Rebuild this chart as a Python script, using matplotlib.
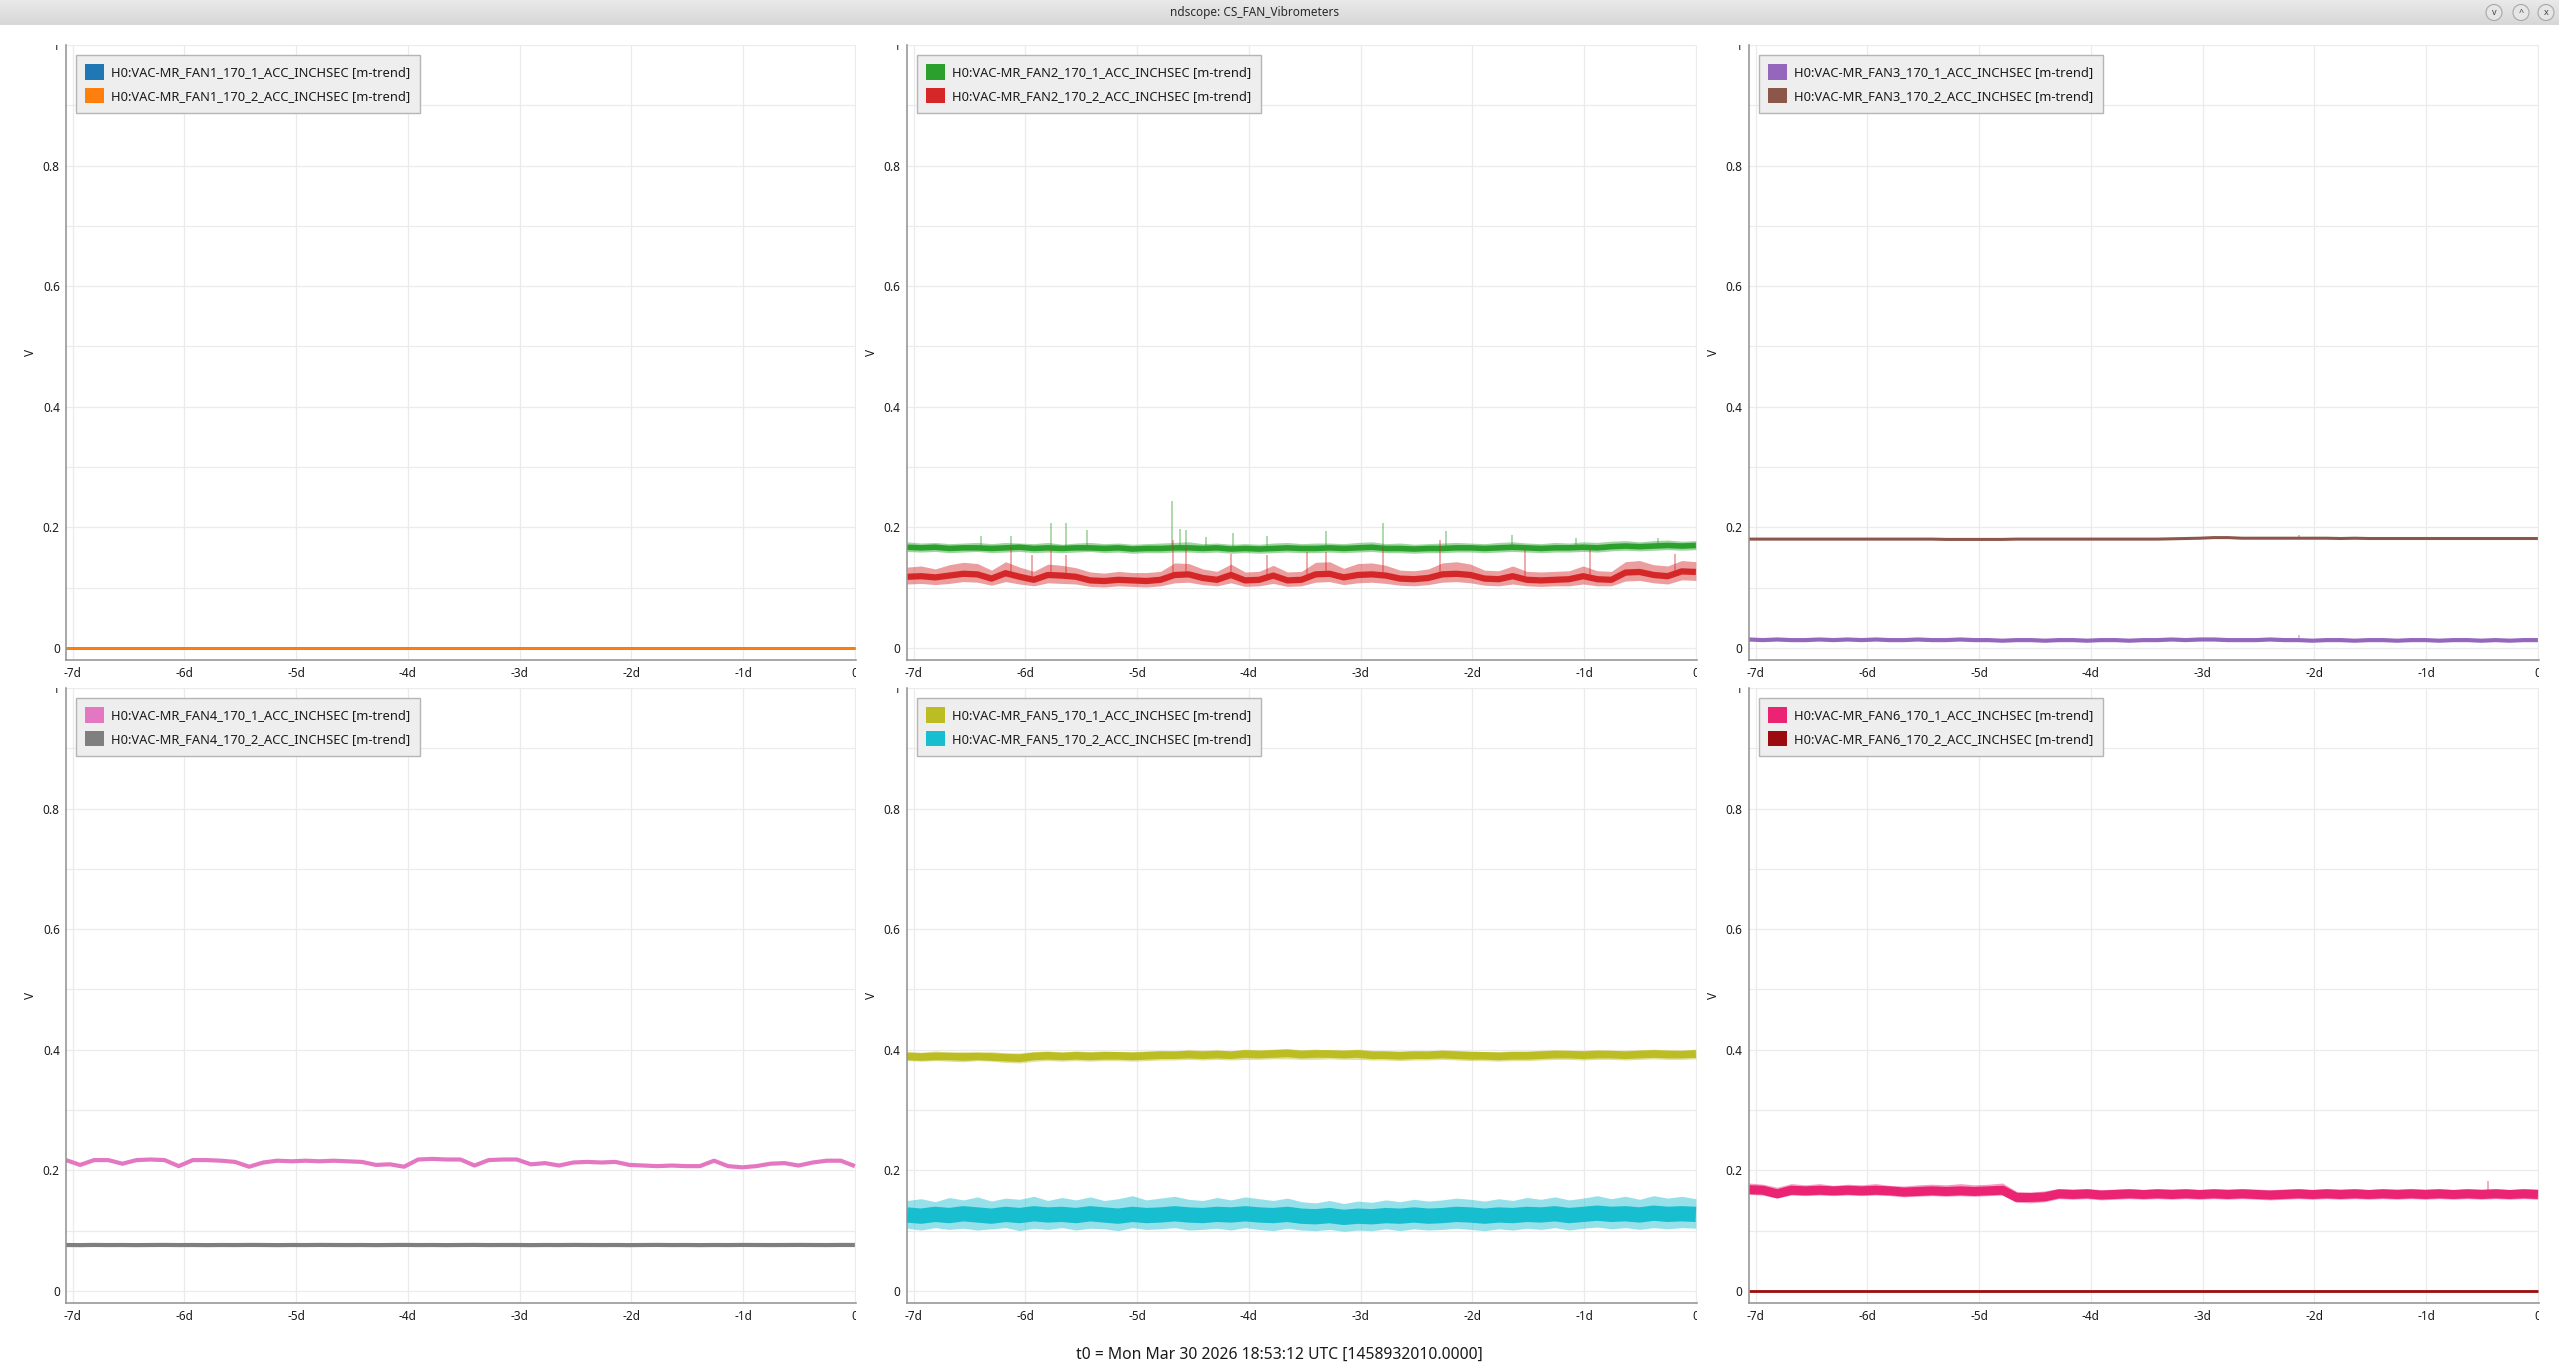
import numpy as np
import matplotlib
matplotlib.use('Agg')
import matplotlib.pyplot as plt
from matplotlib.patches import Patch, Circle
from matplotlib.transforms import Bbox, TransformedBbox

plt.rcParams['font.family'] = ['Noto Sans', 'DejaVu Sans']

# Time axis: days before t0 (minute trend, resampled)
t_days = np.linspace(-7.06, 0, 57)
t_ends = [-7.06, 0]
day_ticks = [-7, -6, -5, -4, -3, -2, -1, 0]
day_labels = ['-7d', '-6d', '-5d', '-4d', '-3d', '-2d', '-1d', '0']
v_ticks = [0, 0.2, 0.4, 0.6, 0.8, 1.0]
v_labels = ['0', '0.2', '0.4', '0.6', '0.8', '1']
t0_text = "t0 = Mon Mar 30 2026 18:53:12 UTC [1458932010.0000]"
window_title = "ndscope: CS_FAN_Vibrometers"

# ---- FAN1 (both flat at zero)
fan1_1_mean = [0.0, 0.0]
fan1_2_mean = [0.0, 0.0]

# ---- FAN2
fan2_1_mean = [0.167, 0.166, 0.167, 0.165, 0.166, 0.166, 0.165, 0.166, 0.167, 0.165, 0.166, 0.165,
               0.166, 0.166, 0.165, 0.166, 0.164, 0.165, 0.165, 0.166, 0.166, 0.165, 0.166, 0.164,
               0.165, 0.164, 0.165, 0.166, 0.165, 0.165, 0.166, 0.165, 0.166, 0.167, 0.165, 0.165,
               0.164, 0.165, 0.165, 0.166, 0.166, 0.165, 0.166, 0.167, 0.166, 0.165, 0.166, 0.166,
               0.167, 0.166, 0.168, 0.169, 0.168, 0.169, 0.170, 0.169, 0.170]
fan2_1_hi = [0.176, 0.174, 0.175, 0.173, 0.174, 0.175, 0.173, 0.175, 0.174, 0.173, 0.175, 0.172,
             0.174, 0.175, 0.173, 0.174, 0.172, 0.173, 0.174, 0.175, 0.176, 0.173, 0.174, 0.172,
             0.173, 0.172, 0.174, 0.175, 0.173, 0.174, 0.174, 0.173, 0.175, 0.176, 0.173, 0.174,
             0.172, 0.173, 0.174, 0.175, 0.174, 0.173, 0.175, 0.176, 0.174, 0.173, 0.175, 0.174,
             0.176, 0.175, 0.177, 0.178, 0.176, 0.178, 0.179, 0.177, 0.178]
fan2_1_lo = [0.160, 0.159, 0.160, 0.158, 0.159, 0.160, 0.158, 0.159, 0.160, 0.158, 0.159, 0.158,
             0.159, 0.160, 0.158, 0.159, 0.157, 0.158, 0.158, 0.159, 0.159, 0.158, 0.159, 0.157,
             0.158, 0.157, 0.158, 0.159, 0.158, 0.158, 0.159, 0.158, 0.159, 0.160, 0.158, 0.158,
             0.157, 0.158, 0.158, 0.159, 0.159, 0.158, 0.159, 0.160, 0.159, 0.158, 0.159, 0.159,
             0.160, 0.159, 0.161, 0.162, 0.161, 0.162, 0.163, 0.162, 0.163]
fan2_1_spike_t = [-6.40, -6.13, -5.77, -5.64, -5.45, -4.69, -4.62, -4.56, -4.38, -4.14, -3.84,
                  -3.31, -2.80, -2.24, -1.65, -1.07, -0.34]
fan2_1_spike_v = [0.186, 0.186, 0.208, 0.208, 0.196, 0.244, 0.198, 0.196, 0.184, 0.190, 0.186,
                  0.194, 0.208, 0.194, 0.188, 0.182, 0.183]

fan2_2_mean = [0.118, 0.119, 0.117, 0.120, 0.123, 0.122, 0.115, 0.124, 0.118, 0.113, 0.121, 0.120,
               0.118, 0.112, 0.111, 0.113, 0.112, 0.111, 0.113, 0.121, 0.122, 0.116, 0.113, 0.121,
               0.112, 0.113, 0.120, 0.112, 0.113, 0.122, 0.123, 0.117, 0.121, 0.122, 0.120, 0.115,
               0.114, 0.116, 0.122, 0.123, 0.121, 0.115, 0.114, 0.119, 0.113, 0.112, 0.113, 0.114,
               0.119, 0.114, 0.113, 0.125, 0.126, 0.121, 0.119, 0.127, 0.126]
fan2_2_hi = [0.134, 0.136, 0.131, 0.138, 0.142, 0.140, 0.129, 0.143, 0.134, 0.127, 0.139, 0.137,
             0.133, 0.126, 0.124, 0.127, 0.125, 0.125, 0.127, 0.141, 0.140, 0.131, 0.127, 0.139,
             0.126, 0.127, 0.137, 0.126, 0.127, 0.142, 0.143, 0.132, 0.140, 0.141, 0.137, 0.129,
             0.128, 0.131, 0.141, 0.143, 0.139, 0.129, 0.128, 0.136, 0.127, 0.126, 0.127, 0.128,
             0.136, 0.128, 0.127, 0.143, 0.145, 0.138, 0.136, 0.145, 0.143]
fan2_2_lo = [0.106, 0.107, 0.105, 0.107, 0.110, 0.109, 0.104, 0.110, 0.106, 0.103, 0.108, 0.107,
             0.106, 0.102, 0.101, 0.103, 0.102, 0.101, 0.103, 0.108, 0.109, 0.105, 0.103, 0.108,
             0.102, 0.103, 0.107, 0.102, 0.103, 0.109, 0.110, 0.105, 0.108, 0.109, 0.107, 0.104,
             0.103, 0.105, 0.109, 0.110, 0.108, 0.104, 0.103, 0.106, 0.103, 0.102, 0.103, 0.103,
             0.106, 0.103, 0.103, 0.111, 0.112, 0.108, 0.106, 0.113, 0.112]
fan2_2_spike_t = [-6.13, -5.94, -5.77, -5.64, -4.68, -4.56, -4.16, -3.84, -3.48, -3.31, -2.80,
                  -2.29, -1.53, -0.95, -0.19]
fan2_2_spike_v = [0.168, 0.154, 0.162, 0.154, 0.179, 0.165, 0.156, 0.154, 0.159, 0.159, 0.168,
                  0.179, 0.162, 0.162, 0.156]

# ---- FAN3
fan3_1_mean = [0.014, 0.013, 0.014, 0.013, 0.013, 0.014, 0.013, 0.014, 0.013, 0.014, 0.013, 0.013,
               0.014, 0.013, 0.013, 0.014, 0.013, 0.013, 0.012, 0.013, 0.013, 0.012, 0.013, 0.013,
               0.012, 0.013, 0.013, 0.012, 0.013, 0.013, 0.014, 0.013, 0.014, 0.014, 0.013, 0.013,
               0.013, 0.014, 0.013, 0.013, 0.012, 0.013, 0.013, 0.012, 0.013, 0.013, 0.012, 0.013,
               0.013, 0.012, 0.013, 0.013, 0.012, 0.013, 0.012, 0.013, 0.013]
fan3_2_mean = [0.1805, 0.1805, 0.1805, 0.1805, 0.1805, 0.1805, 0.1805, 0.1805, 0.1805, 0.1805, 0.1805, 0.1805,
               0.1805, 0.1805, 0.1800, 0.1800, 0.1800, 0.1800, 0.1800, 0.1805, 0.1805, 0.1805, 0.1805, 0.1805,
               0.1805, 0.1805, 0.1805, 0.1805, 0.1805, 0.1805, 0.1810, 0.1815, 0.1820, 0.1830, 0.1830, 0.1820,
               0.1820, 0.1820, 0.1820, 0.1820, 0.1820, 0.1820, 0.1815, 0.1820, 0.1815, 0.1815, 0.1815, 0.1815,
               0.1815, 0.1815, 0.1815, 0.1815, 0.1815, 0.1815, 0.1815, 0.1815, 0.1815]
fan3_spike_t = [-2.14]
fan3_1_spike_v = [0.022]
fan3_2_spike_v = [0.188]

# ---- FAN4
fan4_1_mean = [0.217, 0.209, 0.217, 0.217, 0.211, 0.217, 0.218, 0.217, 0.207, 0.217, 0.217, 0.216,
               0.214, 0.206, 0.213, 0.216, 0.215, 0.216, 0.215, 0.216, 0.215, 0.214, 0.209, 0.210,
               0.206, 0.218, 0.219, 0.218, 0.218, 0.208, 0.217, 0.218, 0.218, 0.210, 0.212, 0.208,
               0.213, 0.214, 0.213, 0.214, 0.209, 0.208, 0.207, 0.208, 0.207, 0.207, 0.216, 0.207,
               0.205, 0.207, 0.211, 0.212, 0.208, 0.213, 0.216, 0.216, 0.207]
fan4_2_mean = [0.0762, 0.0760, 0.0763, 0.0761, 0.0762, 0.0760, 0.0762, 0.0763, 0.0761, 0.0762, 0.0760, 0.0762,
               0.0761, 0.0763, 0.0762, 0.0760, 0.0762, 0.0761, 0.0763, 0.0762, 0.0761, 0.0762, 0.0760, 0.0762,
               0.0763, 0.0761, 0.0762, 0.0760, 0.0762, 0.0763, 0.0761, 0.0762, 0.0762, 0.0760, 0.0762, 0.0761,
               0.0763, 0.0762, 0.0761, 0.0762, 0.0760, 0.0762, 0.0763, 0.0761, 0.0762, 0.0760, 0.0762, 0.0761,
               0.0763, 0.0762, 0.0761, 0.0762, 0.0763, 0.0762, 0.0761, 0.0763, 0.0762]

# ---- FAN5
fan5_1_mean = [0.389, 0.388, 0.389, 0.389, 0.388, 0.389, 0.388, 0.387, 0.386, 0.389, 0.390, 0.389,
               0.390, 0.389, 0.390, 0.390, 0.389, 0.390, 0.391, 0.391, 0.392, 0.391, 0.392, 0.391,
               0.393, 0.392, 0.393, 0.394, 0.392, 0.393, 0.393, 0.392, 0.393, 0.391, 0.391, 0.390,
               0.391, 0.391, 0.392, 0.391, 0.390, 0.390, 0.389, 0.390, 0.390, 0.391, 0.392, 0.392,
               0.391, 0.392, 0.392, 0.391, 0.392, 0.393, 0.392, 0.392, 0.393]
fan5_1_hi = [0.397, 0.396, 0.398, 0.396, 0.397, 0.396, 0.397, 0.395, 0.395, 0.397, 0.398, 0.396,
             0.398, 0.397, 0.398, 0.397, 0.397, 0.398, 0.399, 0.398, 0.400, 0.399, 0.400, 0.398,
             0.401, 0.400, 0.401, 0.402, 0.400, 0.401, 0.400, 0.400, 0.401, 0.399, 0.398, 0.398,
             0.399, 0.398, 0.400, 0.399, 0.398, 0.397, 0.397, 0.398, 0.398, 0.399, 0.400, 0.399,
             0.399, 0.400, 0.399, 0.399, 0.400, 0.401, 0.400, 0.399, 0.401]
fan5_1_lo = [0.382, 0.381, 0.382, 0.381, 0.380, 0.382, 0.381, 0.379, 0.378, 0.381, 0.382, 0.381,
             0.382, 0.381, 0.382, 0.382, 0.381, 0.382, 0.383, 0.383, 0.384, 0.383, 0.384, 0.383,
             0.384, 0.384, 0.385, 0.385, 0.384, 0.384, 0.385, 0.384, 0.384, 0.383, 0.383, 0.382,
             0.383, 0.383, 0.384, 0.383, 0.382, 0.382, 0.381, 0.382, 0.382, 0.383, 0.384, 0.384,
             0.383, 0.384, 0.384, 0.383, 0.384, 0.385, 0.384, 0.384, 0.385]

fan5_2_mean = [0.126, 0.124, 0.127, 0.125, 0.128, 0.126, 0.124, 0.127, 0.125, 0.128, 0.126, 0.127,
               0.125, 0.128, 0.126, 0.124, 0.127, 0.125, 0.126, 0.128, 0.126, 0.125, 0.127, 0.126,
               0.128, 0.126, 0.125, 0.127, 0.124, 0.123, 0.125, 0.122, 0.124, 0.123, 0.125, 0.124,
               0.126, 0.124, 0.125, 0.127, 0.126, 0.124, 0.126, 0.125, 0.127, 0.126, 0.128, 0.125,
               0.127, 0.129, 0.127, 0.128, 0.126, 0.129, 0.127, 0.128, 0.127]
fan5_2_hi = [0.150, 0.153, 0.148, 0.155, 0.151, 0.156, 0.149, 0.154, 0.152, 0.157, 0.150, 0.155,
             0.151, 0.156, 0.150, 0.153, 0.158, 0.151, 0.154, 0.157, 0.152, 0.150, 0.155, 0.151,
             0.156, 0.153, 0.150, 0.154, 0.148, 0.146, 0.150, 0.145, 0.149, 0.147, 0.151, 0.148,
             0.152, 0.149, 0.151, 0.154, 0.152, 0.149, 0.153, 0.150, 0.155, 0.152, 0.156, 0.151,
             0.154, 0.158, 0.153, 0.157, 0.152, 0.158, 0.154, 0.157, 0.153]
fan5_2_lo = [0.104, 0.101, 0.105, 0.102, 0.104, 0.101, 0.103, 0.105, 0.100, 0.104, 0.102, 0.105,
             0.101, 0.104, 0.103, 0.100, 0.105, 0.102, 0.103, 0.105, 0.101, 0.102, 0.104, 0.101,
             0.105, 0.102, 0.100, 0.104, 0.101, 0.100, 0.102, 0.099, 0.101, 0.100, 0.103, 0.100,
             0.103, 0.101, 0.102, 0.104, 0.102, 0.100, 0.103, 0.101, 0.104, 0.102, 0.105, 0.101,
             0.104, 0.106, 0.103, 0.105, 0.102, 0.105, 0.103, 0.105, 0.104]

# ---- FAN6
fan6_1_mean = [0.168, 0.167, 0.161, 0.167, 0.166, 0.167, 0.166, 0.167, 0.166, 0.167, 0.166, 0.164,
               0.165, 0.166, 0.165, 0.166, 0.165, 0.166, 0.167, 0.155, 0.155, 0.156, 0.161, 0.160,
               0.161, 0.159, 0.160, 0.161, 0.160, 0.161, 0.160, 0.161, 0.160, 0.161, 0.160, 0.161,
               0.160, 0.159, 0.160, 0.161, 0.160, 0.161, 0.160, 0.161, 0.160, 0.161, 0.160, 0.161,
               0.160, 0.161, 0.160, 0.161, 0.160, 0.161, 0.160, 0.161, 0.160]
fan6_1_hi = [0.179, 0.177, 0.172, 0.178, 0.176, 0.178, 0.175, 0.177, 0.176, 0.178, 0.175, 0.174,
             0.176, 0.177, 0.176, 0.178, 0.176, 0.177, 0.179, 0.165, 0.164, 0.166, 0.170, 0.169,
             0.170, 0.168, 0.169, 0.170, 0.168, 0.170, 0.169, 0.170, 0.168, 0.170, 0.169, 0.170,
             0.169, 0.168, 0.169, 0.170, 0.168, 0.170, 0.169, 0.170, 0.168, 0.170, 0.169, 0.170,
             0.169, 0.170, 0.168, 0.170, 0.169, 0.170, 0.168, 0.170, 0.169]
fan6_1_lo = [0.160, 0.159, 0.154, 0.159, 0.158, 0.159, 0.158, 0.159, 0.158, 0.159, 0.158, 0.156,
             0.157, 0.158, 0.157, 0.158, 0.157, 0.158, 0.159, 0.147, 0.146, 0.148, 0.153, 0.152,
             0.153, 0.151, 0.152, 0.153, 0.152, 0.153, 0.152, 0.153, 0.152, 0.153, 0.152, 0.153,
             0.152, 0.151, 0.152, 0.153, 0.152, 0.153, 0.152, 0.153, 0.152, 0.153, 0.152, 0.153,
             0.152, 0.153, 0.152, 0.153, 0.152, 0.153, 0.152, 0.153, 0.152]
fan6_1_spike_t = [-0.45]
fan6_1_spike_v = [0.182]
fan6_2_mean = [0.0, 0.0]

# Channel names and colours
chan_fmt = "H0:VAC-MR_FAN{}_170_{}_ACC_INCHSEC [m-trend]"
colors = [('#1f77b4', '#ff7f0e'), ('#2ca02c', '#d62728'), ('#9467bd', '#8c564b'),
          ('#e377c2', '#7f7f7f'), ('#bcbd22', '#17becf'), ('#ea2472', '#9c0c0e')]

# per panel: list of (t, mean, lo, hi, line width, spikes_t, spikes_v)
panels = [
    [(t_ends, fan1_1_mean, None, None, 1.8, None, None),
     (t_ends, fan1_2_mean, None, None, 1.8, None, None)],
    [(t_days, fan2_1_mean, fan2_1_lo, fan2_1_hi, 4.0, fan2_1_spike_t, fan2_1_spike_v),
     (t_days, fan2_2_mean, fan2_2_lo, fan2_2_hi, 4.5, fan2_2_spike_t, fan2_2_spike_v)],
    [(t_days, fan3_1_mean, None, None, 3.0, fan3_spike_t, fan3_1_spike_v),
     (t_days, fan3_2_mean, None, None, 2.2, fan3_spike_t, fan3_2_spike_v)],
    [(t_days, fan4_1_mean, None, None, 3.0, None, None),
     (t_days, fan4_2_mean, None, None, 3.0, None, None)],
    [(t_days, fan5_1_mean, fan5_1_lo, fan5_1_hi, 5.5, None, None),
     (t_days, fan5_2_mean, fan5_2_lo, fan5_2_hi, 11.0, None, None)],
    [(t_days, fan6_1_mean, fan6_1_lo, fan6_1_hi, 6.5, fan6_1_spike_t, fan6_1_spike_v),
     (t_ends, fan6_2_mean, None, None, 2.0, None, None)],
]

W, H = 2559, 1367
fig = plt.figure(figsize=(W / 100, H / 100), dpi=100)
fig.patch.set_facecolor('white')

col_left = [66, 907, 1749]
row_top = [45, 688]
ax_w, ax_h = 790, 615

for k, chans in enumerate(panels):
    r, c = divmod(k, 3)
    ax = fig.add_axes([col_left[c] / W, 1 - (row_top[r] + ax_h) / H, ax_w / W, ax_h / H])
    handles, labels = [], []
    for j, (t, mean, lo, hi, lw, sp_t, sp_v) in enumerate(chans):
        col = colors[k][j]
        if lo is not None:
            ax.fill_between(t, lo, hi, color=col, alpha=0.45, lw=0)
        if sp_t is not None:
            base = np.interp(sp_t, t, mean)
            ax.vlines(sp_t, base, sp_v, color=col, alpha=0.5, lw=1.1)
        ax.plot(t, mean, color=col, lw=lw, solid_capstyle='butt')
        handles.append(Patch(facecolor=col, edgecolor='none'))
        labels.append(chan_fmt.format(k + 1, j + 1))

    ax.set_xlim(-7.06, 0.01)
    ax.set_ylim(-0.02, 1.0)
    ax.set_xticks(day_ticks)
    ax.set_xticklabels(day_labels)
    ax.set_yticks(v_ticks)
    ax.set_yticklabels(v_labels)
    ax.set_yticks(np.arange(0.1, 1.0, 0.2), minor=True)
    ax.grid(True, which='both', color='#ebebeb', lw=0.9)
    ax.set_axisbelow(True)
    ax.tick_params(which='both', length=0, labelsize=8.5, colors='#1a1a1a')
    ax.tick_params(axis='x', pad=5)
    ax.tick_params(axis='y', pad=4.5)
    for s in ['top', 'right']:
        ax.spines[s].set_visible(False)
    for s in ['left', 'bottom']:
        ax.spines[s].set_color('#8f8f8f')
        ax.spines[s].set_linewidth(1.1)
    ax.set_ylabel('V', fontsize=8.5, color='#1a1a1a')
    ax.yaxis.set_label_coords(-0.037, 0.5)

    # labels get cut at the view box edges like in the ndscope window
    xclip = TransformedBbox(Bbox([[-0.02, -1.0], [1.0, 1.0]]), ax.transAxes)
    yclip = TransformedBbox(Bbox([[-1.0, -0.05], [1.0, 1.0]]), ax.transAxes)
    for lab in ax.get_xticklabels():
        lab.set_clip_box(xclip)
        lab.set_clip_on(True)
    for lab in ax.get_yticklabels():
        lab.set_clip_box(yclip)
        lab.set_clip_on(True)

    leg = ax.legend(handles, labels, loc='upper left', fontsize=9.3, frameon=True,
                    fancybox=False, facecolor='#eeeeee', edgecolor='#b5b5b5', framealpha=1,
                    handlelength=1.45, handleheight=1.45, handletextpad=0.5,
                    labelspacing=0.62, borderpad=0.75, borderaxespad=0.75)
    leg.get_frame().set_linewidth(1.0)
    for txt in leg.get_texts():
        txt.set_color('#1a1a1a')

# t0 line at the bottom
fig.text(0.5, 1 - 1355 / H, t0_text, ha='center', va='center', fontsize=11.3, color='#1a1a1a')

# Window title bar
bar = fig.add_axes([0, 1 - 25 / H, 1, 25 / H])
grad = np.linspace(0.91, 0.84, 25).reshape(-1, 1)
bar.imshow(grad, cmap='gray', vmin=0, vmax=1, aspect='auto', extent=[0, W, 0, 25])
bar.set_xlim(0, W)
bar.set_ylim(0, 25)
bar.axis('off')
bar.text(1255, 12.5, window_title, ha='center', va='center', fontsize=8.5, color='#2a2a2a')
for cx, sym in [(2494, 'v'), (2521, '^'), (2546, 'x')]:
    bar.add_patch(Circle((cx, 12.5), 8, facecolor='#e6e6e6', edgecolor='#a8a8a8', lw=0.8))
    bar.text(cx, 12.5, sym, ha='center', va='center', fontsize=6.5, color='#444444')

plt.savefig('out.png', dpi=100, facecolor='white')
print("Graph saved")
